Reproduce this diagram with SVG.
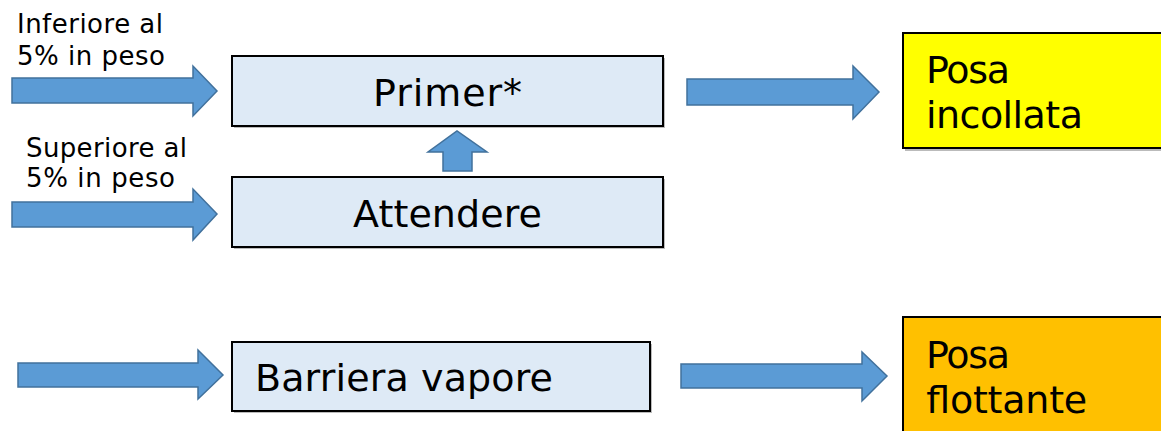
<svg xmlns="http://www.w3.org/2000/svg" width="1161" height="431" viewBox="0 0 1161 431">
<style>
.box{stroke:#000;stroke-width:2}
.shadow{fill:#bbb}
.blue{fill:#DEEAF6}
.arrow{fill:#5B9BD5;stroke:#41719C;stroke-width:1.5;stroke-linejoin:miter}
text{font-family:"DejaVu Sans","Verdana",sans-serif;fill:#000}
.big{font-size:38px}
.small{font-size:26px}
</style>
<rect width="1161" height="431" fill="#fff"/>
<g id="connectors">
<polygon class="arrow" points="12,78 193,78 193,66 217,91 193,116 193,103 12,103"/>
<polygon class="arrow" points="12,202 193,202 193,189 217,214 193,240 193,227 12,227"/>
<polygon class="arrow" points="443,171 443,152 428,152 457,131 487,152 472,152 472,171"/>
<polygon class="arrow" points="687,79 853,79 853,66 879,92 853,119 853,105 687,105"/>
<polygon class="arrow" points="18,363 198,363 198,350 223,375 198,399 198,387 18,387"/>
<polygon class="arrow" points="681,364 862,364 862,352 887,376 862,401 862,388 681,388"/>
</g>
<g id="label-inferiore">
<text class="small" x="17" y="33" textLength="146">Inferiore al</text>
<text class="small" x="17" y="65" textLength="148">5% in peso</text>
</g>
<g id="label-superiore">
<text class="small" x="26" y="157" textLength="161">Superiore al</text>
<text class="small" x="26" y="187" textLength="149">5% in peso</text>
</g>
<g id="node-primer">
<rect class="shadow" x="234" y="58" width="431" height="70"/>
<rect class="box blue" x="232" y="56" width="431" height="70"/>
<text class="big" x="447.5" y="106" text-anchor="middle" textLength="149">Primer*</text>
</g>
<g id="node-attendere">
<rect class="shadow" x="234" y="179" width="431" height="70"/>
<rect class="box blue" x="232" y="177" width="431" height="70"/>
<text class="big" x="447.5" y="227" text-anchor="middle" textLength="189">Attendere</text>
</g>
<g id="node-barriera">
<rect class="shadow" x="234" y="344" width="418" height="69"/>
<rect class="box blue" x="232" y="342" width="418" height="69"/>
<text class="big" x="255" y="391" textLength="298">Barriera vapore</text>
</g>
<g id="node-incollata">
<rect class="shadow" x="905" y="35" width="270" height="116"/>
<rect class="box" fill="#FFFF00" x="903" y="33" width="270" height="115"/>
<text class="big" x="926" y="83" textLength="84">Posa</text>
<text class="big" x="926" y="128" textLength="157">incollata</text>
</g>
<g id="node-flottante">
<rect class="shadow" x="905" y="319" width="270" height="130"/>
<rect class="box" fill="#FFC000" x="903" y="317" width="270" height="130"/>
<text class="big" x="926" y="368" textLength="84">Posa</text>
<text class="big" x="926" y="413" textLength="161">flottante</text>
</g>
</svg>
